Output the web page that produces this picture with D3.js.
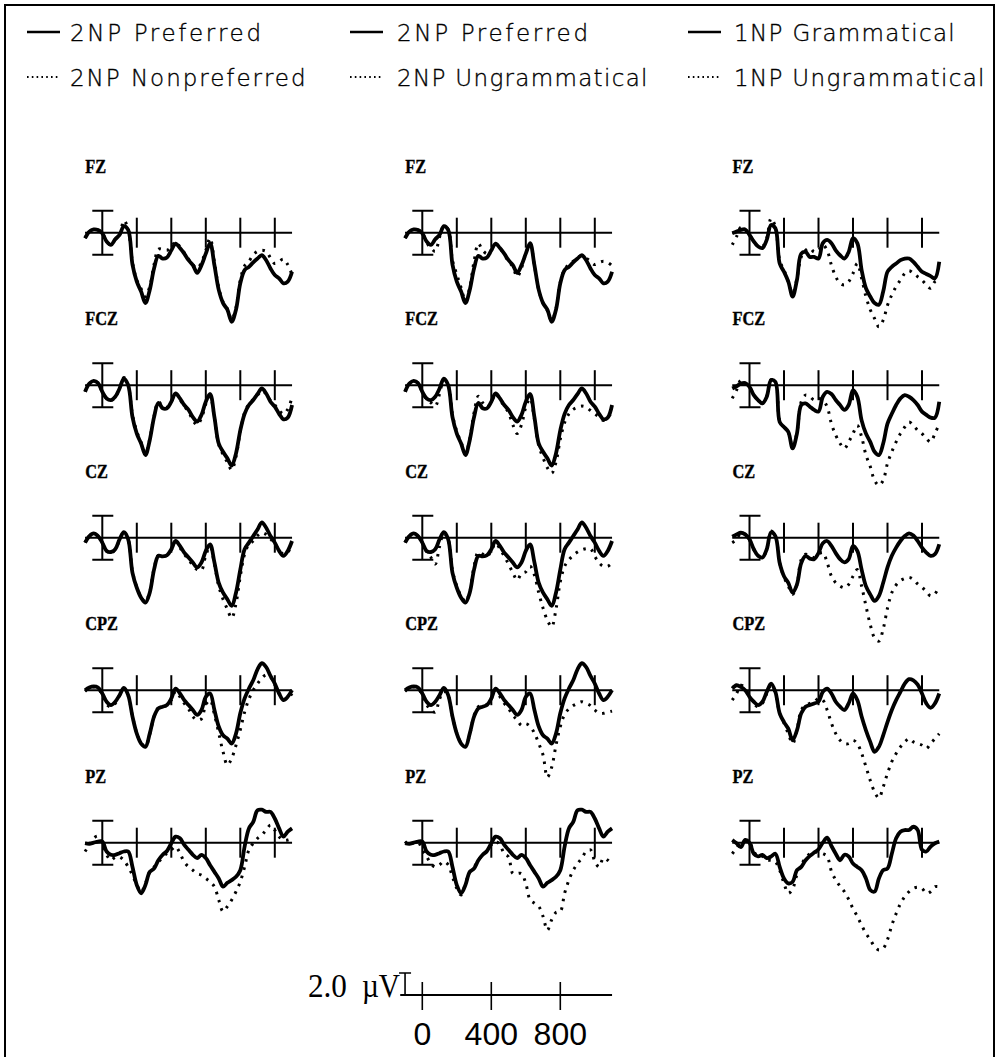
<!DOCTYPE html>
<html>
<head>
<meta charset="utf-8">
<script src="https://cdn.jsdelivr.net/npm/d3@7"></script>
<style>
  body { margin: 0; background: #fff; }
</style>
</head>
<body>
<div id="container"></div>
<script>
/* DATA */
// samples every 25 ms from -100 to 1100 ms, values in microvolts
// (plotted negative up, as usual for ERPs)
const times = d3.range(-100, 1101, 25)
const electrodes = ["FZ", "FCZ", "CZ", "CPZ", "PZ"]
const panelTicks = [0, 200, 400, 600, 800, 1000]
const scaleTicks = [0, 400, 800]
const legendSolid = ["2NP Preferred", "2NP Preferred", "1NP Grammatical"]
const legendDotted = ["2NP Nonpreferred", "2NP Ungrammatical", "1NP Ungrammatical"]

const pref2NP = {
  FZ:  [0.5,-0.1,-0.3,-0.25,0.05,0.8,1.1,0.6,0.2,-0.6,-0.25,2.9,4.45,5.35,6.4,5.2,3.25,2.1,2.35,2.25,1.6,1.0,1.4,1.9,2.5,2.95,3.65,2.95,1.9,0.95,2.95,5.2,6.4,7.0,8.1,7.0,4.6,3.4,3.1,2.7,2.35,2.05,2.5,3.25,3.85,4.15,4.6,4.45,3.55],
  FCZ: [0.6,-0.15,-0.4,-0.2,0.6,1.2,1.35,1.05,0.3,-0.6,0,2.9,4.4,5.3,6.35,5,2.9,1.6,2.1,2.1,1.5,0.75,1.2,1.8,2.25,2.9,3.3,2.7,1.5,0.8,2.9,5.3,6.05,6.65,7.3,6.2,4.1,2.6,1.8,1.35,0.8,0.3,0.75,1.5,1.95,2.6,3.1,2.95,1.8],
  CZ:  [0.45,-0.15,-0.4,-0.15,0.45,1.2,1.3,1.05,0.15,-0.5,0.15,3.2,4.55,5.45,5.9,5,2.9,1.65,1.7,1.6,1.05,0.3,0.75,1.35,1.8,2.25,2.7,2.25,1.2,0.6,2.25,4.1,5,5.6,6.2,5,2.9,1.05,0.45,-0.15,-0.75,-1.4,-0.9,-0.15,0.45,1.2,1.65,1.2,0.3],
  CPZ: [0,-0.25,-0.35,-0.25,0.3,1.05,1.35,1.05,0.45,-0.2,0.45,2.4,3.95,4.85,5.15,3.95,2.4,1.65,1.5,1.35,0.75,-0.15,0.3,0.9,1.35,1.8,2.25,1.8,0.6,0.3,1.8,3.3,4.1,4.4,4.85,3.95,2.1,0.75,-0.15,-0.9,-1.9,-2.45,-2.1,-1.3,-0.6,0.3,0.9,0.6,0],
  PZ:  [0.05,0.1,0,-0.1,-0.1,0.8,1.1,1.1,0.95,0.8,0.8,2.2,3.85,4.6,3.85,2.65,2.35,1.6,1.1,0.75,0.05,-0.55,-0.4,0.2,0.65,1.1,1.4,1.1,1.4,2.05,2.65,3.25,4.0,3.65,3.4,3.1,2.5,0.35,-1.3,-1.9,-2.95,-3.0,-2.8,-2.8,-2.2,-1.3,-0.55,-1.0,-1.3]
}

const nonpref2NP = {
  FZ:  [0.5,-0.1,-0.3,-0.25,0.05,0.8,1.1,0.6,0.2,-1.1,-0.3,2.7,4.3,5.1,5.8,4.9,2.9,1.5,1.5,1.6,1.3,0.8,1.3,1.8,2.4,2.9,3.25,2.7,1.6,0.5,2.7,5.0,6.3,6.9,7.9,6.8,4.3,3.0,2.6,2.0,1.7,1.6,1.7,2.3,2.8,2.6,2.4,2.9,3.8],
  FCZ: [0.6,-0.15,-0.4,-0.2,0.6,1.2,1.4,1.1,0.3,-0.7,0,2.7,4.2,5.2,6.2,4.9,2.8,1.5,1.9,2.0,1.5,0.8,1.3,1.9,2.4,3.2,3.6,3.0,1.7,1.0,3.0,5.4,6.3,7.0,7.7,6.5,4.2,2.5,1.7,1.3,0.9,0.5,0.8,1.4,1.8,2.3,2.6,2.2,1.1],
  CZ:  [0.45,-0.15,-0.4,-0.15,0.45,1.2,1.4,1.1,0.2,-0.5,0.15,3.1,4.5,5.4,5.8,4.9,2.8,1.6,1.7,1.6,1.1,0.4,0.9,1.5,2.0,2.5,2.9,2.95,1.6,0.8,2.4,4.4,5.6,6.5,7.3,6.0,3.5,1.5,0.6,0.3,-0.2,-0.45,-0.3,0.1,0.6,1.1,1.5,1.3,0.7],
  CPZ: [0.1,-0.2,-0.3,-0.2,0.5,1.3,1.5,1.2,0.5,-0.1,0.5,2.4,3.9,4.8,5.1,4.0,2.4,1.6,1.5,1.4,0.9,0.1,0.6,1.2,1.7,2.4,2.7,2.6,1.3,0.9,2.2,3.9,5.6,6.8,6.2,5.0,3.6,2.0,0.8,0.0,-0.6,-1.1,-1.4,-1.2,-0.5,0.3,0.8,0.7,0.3],
  PZ:  [0.8,0.2,-0.4,-0.6,0,1.1,1.6,1.3,1.3,1.6,2.2,2.95,3.85,4.45,3.7,2.65,2.2,1.75,1.35,0.95,0.65,0.35,0.95,1.75,2.2,2.5,2.8,2.95,3.25,3.55,4.0,5.2,6.25,5.8,5.2,4.45,3.55,2.2,0.65,0.05,-0.4,-0.7,-1.15,-1.6,-1.15,-0.55,-0.25,-0.25,-0.4]
}

const ungram2NP = {
  FZ:  [0.5,-0.1,-0.3,-0.25,0.05,0.9,1.4,1.7,0.4,-0.6,-0.3,2.5,3.8,5.0,6.2,5.0,2.6,1.0,1.6,1.9,1.6,1.0,1.4,2.0,2.6,3.1,4.0,3.2,1.9,1.0,3.0,5.2,6.4,7.1,8.0,6.9,4.5,3.3,2.9,2.6,2.3,2.1,2.3,2.6,2.9,2.7,2.6,2.7,3.0],
  FCZ: [0.6,-0.15,-0.4,-0.2,0.6,1.3,1.6,1.9,0.8,-0.5,0,2.7,4.2,5.2,6.2,4.9,2.5,1.0,1.6,2.0,1.5,0.8,1.3,1.9,2.5,3.6,4.4,3.6,2.0,1.2,3.1,5.5,6.6,7.5,8.0,7.0,4.9,3.4,2.6,2.2,2.0,1.9,2.0,2.3,2.6,2.9,3.2,2.9,2.5],
  CZ:  [0.45,-0.15,-0.4,-0.15,0.45,1.3,1.8,2.4,0.8,-0.4,0.15,3.0,4.4,5.3,5.8,4.9,2.6,1.3,1.5,1.7,1.2,0.5,1.0,1.7,2.4,3.2,3.85,3.25,3.1,2.6,3.4,5.0,6.4,7.5,8.1,6.5,4.0,2.6,2.0,1.6,1.3,1.1,1.0,1.0,1.7,2.3,2.6,2.6,2.3],
  CPZ: [0.1,-0.2,-0.3,-0.2,0.5,1.3,1.8,2.0,0.8,0.1,0.5,2.4,3.9,4.8,5.1,4.0,2.3,1.5,1.4,1.3,0.8,0.0,0.6,1.2,1.65,2.3,2.7,3.2,3.05,3.3,3.9,4.85,5.9,7.9,7.0,5.0,3.3,2.2,1.7,1.4,1.2,1.05,1.2,1.4,1.8,2.1,2.1,2.0,1.9],
  PZ:  [-0.1,0.2,0,-0.1,0.65,1.25,1.9,2.2,2.0,1.7,2.0,3.1,4.15,4.75,3.7,2.65,2.2,1.6,1.1,0.8,0.2,-0.1,0.2,1.0,1.3,2.8,2.8,2.8,3.7,5.2,5.5,5.8,6.7,7.95,7.0,6.35,6.25,4.6,3.4,2.5,1.9,1.4,0.8,0.65,1.7,2.2,1.4,1.6,2.0]
}

const gram1NP = {
  FZ:  [0.05,-0.1,-0.25,-0.3,0.2,0.8,1.25,1.4,0.65,-0.7,-0.4,2.8,3.55,4.45,5.8,4.3,1.9,1.75,2.2,2.2,2.35,0.95,0.65,0.95,1.6,2.05,2.35,1.75,0.5,0.95,3.4,5.05,5.8,6.4,6.55,5.35,3.55,3.1,2.8,2.5,2.35,2.35,2.65,3.1,3.55,3.75,3.95,4.15,2.65],
  FCZ: [0.3,0.1,-0.15,-0.2,0.15,0.9,1.35,1.65,1.05,-0.45,-0.3,3.35,3.8,4.25,5.75,4.4,1.8,1.65,1.95,2.25,2.4,1.05,0.6,0.8,1.35,1.8,2.25,1.8,0.45,1.05,3.2,4.4,5.15,6.05,6.35,5.3,3.5,2.6,1.8,1.2,0.9,1.05,1.35,1.8,2.4,2.7,2.95,2.95,1.5],
  CZ:  [-0.1,-0.3,-0.45,-0.3,0.15,1.05,1.65,1.8,1.05,-0.5,-0.15,2.3,3.5,4.1,5.0,4.25,2.3,1.65,1.9,1.95,1.4,0.5,0.3,0.75,1.4,1.95,2.25,1.95,0.75,1.2,2.9,4.4,5.15,5.75,5.3,4.1,2.7,1.65,0.9,0.3,-0.15,-0.4,-0.2,0.3,0.9,1.35,1.65,1.5,0.6],
  CPZ: [-0.15,-0.45,-0.3,0,0.6,1.05,1.35,1.05,0.15,-0.6,0.15,2.1,2.9,3.5,4.55,3.65,2.1,1.5,1.35,1.2,1.05,0.15,-0.15,0.3,1.05,1.5,1.8,1.2,0.3,0.9,2.4,3.65,4.7,5.6,5.15,4.1,2.9,1.8,0.9,0.15,-0.6,-1.0,-0.9,-0.5,0.3,1.2,1.6,1.2,0.3],
  PZ:  [-0.25,0.05,0.4,-0.25,0,1.0,1.25,1.1,1.4,1.25,1.0,2.2,3.25,3.7,3.55,2.5,2.2,1.6,1.2,0.9,0.6,0.0,-0.45,0.3,1.0,1.6,1.1,1.25,1.9,2.2,2.5,3.25,4.3,4.45,3.25,2.5,2.35,1.0,-0.4,-1.0,-1.15,-1.15,-1.45,-1.15,0.65,0.8,0.35,0.05,-0.1]
}

const ungram1NP = {
  FZ:  [1.1,0.35,-0.5,-0.25,0.2,0.8,1.25,1.25,0.5,-1.3,-0.55,2.5,3.4,4.45,5.5,4.15,2.2,1.6,1.4,1.75,1.6,1.1,1.6,2.95,4.0,4.6,4.75,4.45,3.7,2.8,4.15,5.8,7.0,7.8,8.55,7.95,6.6,5.65,4.9,4.3,3.7,3.45,3.7,4.0,4.3,4.75,5.05,4.45,4.3],
  FCZ: [1.2,0.45,-0.45,-0.15,0.15,0.9,1.35,1.6,1.0,-0.5,-0.3,3.2,3.8,4.3,5.6,4.3,1.5,0.9,1.05,1.35,1.2,1.35,1.95,3.5,4.55,5.3,5.75,5.15,4.4,3.65,4.7,6.35,7.4,8.65,9.1,8.65,7.1,6.05,5.15,4.4,3.8,3.35,3.65,4.1,4.4,4.85,5.15,4.4,3.5],
  CZ:  [0.45,0.15,-0.45,-0.3,0.15,1.05,1.65,1.8,1.05,-0.6,-0.15,2.3,3.6,4.4,5.15,4.25,2.0,1.5,1.65,1.8,1.5,1.35,2.25,3.5,4.1,4.4,4.55,4.25,3.5,2.9,4.4,6.2,7.9,9.1,9.4,8.3,6.4,5.0,4.3,3.9,3.7,3.6,3.8,4.2,4.5,4.9,5.3,5.1,4.4],
  CPZ: [0.9,0.3,-0.45,-0.2,0.6,1.2,1.5,1.2,0.3,-0.45,0.3,2.1,3.0,3.95,4.85,3.65,1.8,1.35,1.2,1.05,0.75,0.9,1.8,3.0,3.95,4.55,4.85,4.85,4.55,4.85,5.75,6.95,8.2,9.25,9.8,8.8,7.55,6.5,5.75,5.15,4.7,4.4,4.7,4.85,5.0,5.3,4.85,4.4,3.95],
  PZ:  [1.0,0.5,0,-0.1,0,0.8,1.25,1.25,1.6,1.6,1.75,2.5,3.7,4.6,4.2,2.9,2.0,1.4,1.0,0.8,0.9,1.0,1.25,2.6,3.4,3.95,4.45,5.15,6.0,6.7,7.5,8.25,8.8,9.45,9.75,9.6,8.8,7.5,6.45,5.55,4.9,4.45,4.15,4.05,4.15,4.6,4.45,4.0,4.0]
}

// one column per comparison: [solid, dotted]
const columns = [
  [pref2NP, nonpref2NP],
  [pref2NP, ungram2NP],
  [gram1NP, ungram1NP]
]

/* LAYOUT */
const width = 1000, height = 1057
const colX = [102.3, 422.3, 749.5]      // where t = 0 sits in each column
const rowY = [232.7, 385.2, 537.7, 690.2, 842.7]

const x = d3.scaleLinear().domain([0, 1000]).range([0, 172.5])
const y = d3.scaleLinear().domain([0, 2]).range([0, 22])   // negative up

const svg = d3.select("#container")
  .append("svg")
  .attr("width", width)
  .attr("height", height)
  .style("background", "#fff")

svg.append("rect")
  .attr("x", 5).attr("y", 5)
  .attr("width", 989).attr("height", 1100)
  .attr("fill", "none")
  .attr("stroke", "black")
  .attr("stroke-width", 2)

// LEGEND
const legendLineX = [27, 350, 688]
const legendTextX = [70, 397, 734]
const legendRows = [
  {y: 32, labels: legendSolid, dash: null, w: 2.5},
  {y: 77, labels: legendDotted, dash: "1.6 3.2", w: 2}
]
legendRows.forEach(r => {
  r.labels.forEach((lab, i) => {
    svg.append("line")
      .attr("x1", legendLineX[i]).attr("x2", legendLineX[i] + 33)
      .attr("y1", r.y).attr("y2", r.y)
      .attr("stroke", "black")
      .attr("stroke-width", r.w)
      .attr("stroke-dasharray", r.dash)
    svg.append("text")
      .attr("x", legendTextX[i])
      .attr("y", r.y + 8.5)
      .attr("font-family", "'DejaVu Sans', sans-serif")
      .attr("font-weight", 200)
      .attr("font-size", 23)
      .attr("fill", "#000")
      .attr("stroke", "#000")
      .attr("stroke-width", 0.35)
      .attr("textLength", lab.length * 14.85 - 2)
      .attr("lengthAdjust", "spacing")
      .text(lab)
  })
})

// PANELS
const line = d3.line()
  .x((d, i) => x(times[i]))
  .y(d => y(d))
  .curve(d3.curveCatmullRom.alpha(0.5))

columns.forEach((pair, c) => {
  electrodes.forEach((el, r) => {
    const g = svg.append("g")
      .attr("transform", `translate(${colX[c]},${rowY[r]})`)

    const lab = g.append("text")
      .attr("x", -17)
      .attr("y", -60)
      .attr("font-family", "'Liberation Serif', serif")
      .attr("font-weight", "bold")
      .attr("font-size", 19)
      .attr("stroke", "black")
      .attr("stroke-width", 0.4)
      .text(el)
    // the original lettering is a little condensed
    lab.attr("textLength", lab.node().getComputedTextLength() * 0.86)
      .attr("lengthAdjust", "spacingAndGlyphs")

    // baseline and time ticks
    g.append("line")
      .attr("x1", x(-100)).attr("x2", x(1100))
      .attr("stroke", "black").attr("stroke-width", 2)
    g.selectAll(".tick")
      .data(panelTicks.slice(1))
      .join("line")
      .attr("x1", d => x(d)).attr("x2", d => x(d))
      .attr("y1", -15).attr("y2", 15)
      .attr("stroke", "black").attr("stroke-width", 2)

    // +-2 uV bar at t = 0
    g.append("path")
      .attr("d", `M${x(0) - 10},${y(-2)}H${x(0) + 11}M${x(0)},${y(-2)}V${y(2)}M${x(0) - 10},${y(2)}H${x(0) + 11}`)
      .attr("fill", "none")
      .attr("stroke", "black").attr("stroke-width", 2)

    // dotted first so the solid sits on top
    g.append("path")
      .attr("d", line(pair[1][el]))
      .attr("fill", "none")
      .attr("stroke", "black")
      .attr("stroke-width", 3)
      .attr("stroke-dasharray", "2.5 6")
    g.append("path")
      .attr("d", line(pair[0][el]))
      .attr("fill", "none")
      .attr("stroke", "black")
      .attr("stroke-width", 3.8)
      .attr("stroke-linejoin", "round")
  })
})

// CALIBRATION SCALE
const sc = svg.append("g").attr("transform", `translate(${colX[1]},995)`)
sc.append("line")
  .attr("x1", x(-128)).attr("x2", x(1100))
  .attr("stroke", "black").attr("stroke-width", 2)
sc.selectAll(".stick")
  .data(scaleTicks)
  .join("line")
  .attr("x1", d => x(d)).attr("x2", d => x(d))
  .attr("y1", -13).attr("y2", 15)
  .attr("stroke", "black").attr("stroke-width", 1.6)
sc.selectAll(".slabel")
  .data(scaleTicks)
  .join("text")
  .attr("x", d => x(d))
  .attr("y", 50)
  .attr("text-anchor", "middle")
  .attr("font-family", "'Liberation Sans Narrow', sans-serif")
  .attr("font-size", 32)
  .text(d => d)
sc.append("path")
  .attr("d", `M${x(-100) - 6},${-y(2)}H${x(-100) + 6}M${x(-100)},${-y(2)}V0`)
  .attr("fill", "none")
  .attr("stroke", "black").attr("stroke-width", 1.6)
// "2.0" and "uV" set apart as in the original
sc.append("text")
  .attr("x", x(-130) - 92)
  .attr("y", 2)
  .attr("font-family", "'Liberation Serif', serif")
  .attr("font-size", 33)
  .attr("textLength", 39)
  .attr("lengthAdjust", "spacingAndGlyphs")
  .text("2.0")
sc.append("text")
  .attr("x", x(-130) - 38)
  .attr("y", 2)
  .attr("font-family", "'Liberation Serif', serif")
  .attr("font-size", 33)
  .attr("textLength", 38)
  .attr("lengthAdjust", "spacingAndGlyphs")
  .text("\u00b5V")
</script>
</body>
</html>
